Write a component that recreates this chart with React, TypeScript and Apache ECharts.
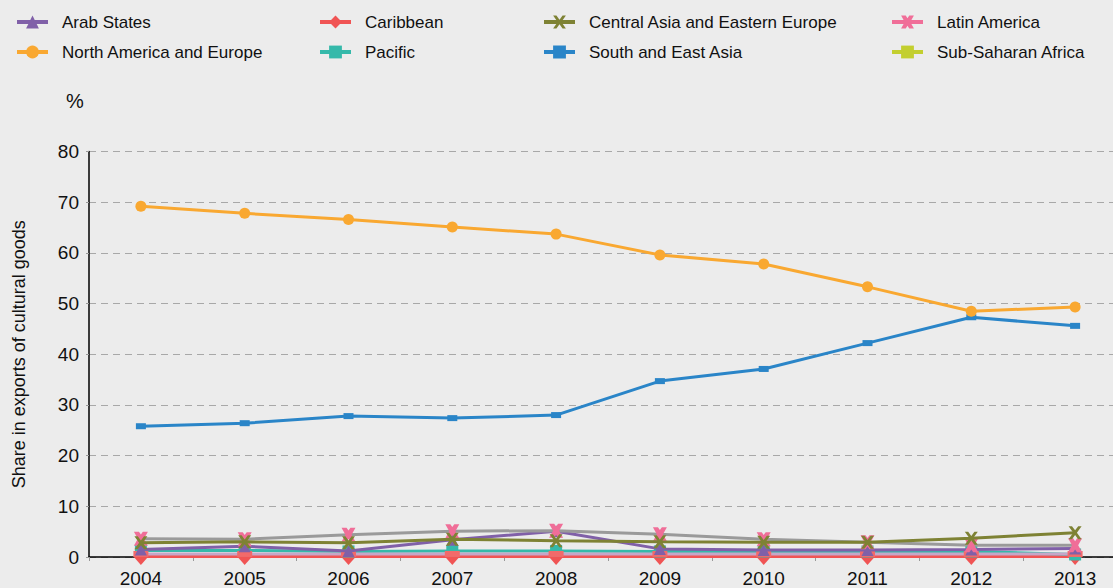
import React, { useEffect, useRef } from "react";
import * as echarts from "echarts";

const years = ["2004", "2005", "2006", "2007", "2008", "2009", "2010", "2011", "2012", "2013"];

const arabStates = [1.5, 2.1, 1.2, 3.4, 5.1, 1.6, 1.4, 1.4, 1.5, 1.7];
const caribbean = [0.1, 0.1, 0.1, 0.1, 0.1, 0.1, 0.1, 0.1, 0.1, 0.1];
const centralAsiaEasternEurope = [2.8, 3.0, 2.8, 3.5, 3.2, 3.0, 2.9, 2.9, 3.7, 4.8];
const latinAmerica = [3.6, 3.5, 4.4, 5.1, 5.2, 4.5, 3.5, 2.9, 2.3, 2.3];
const northAmericaEurope = [69.2, 67.8, 66.6, 65.1, 63.7, 59.6, 57.8, 53.3, 48.5, 49.3];
const pacific = [1.3, 1.3, 1.1, 1.2, 1.2, 1.1, 1.1, 1.1, 1.1, 0.5];
const southEastAsia = [25.8, 26.4, 27.8, 27.4, 28.0, 34.7, 37.1, 42.2, 47.3, 45.6];
const subSaharanAfrica = [0.6, 0.6, 0.6, 0.6, 0.6, 0.6, 0.6, 0.6, 0.6, 0.6];

const FONT = "'Liberation Sans', Arial, sans-serif";

const X_THIN =
  "path://M0,0 L2.6,0 L5,3.2 L7.4,0 L10,0 L6.4,5 L10,10 L7.4,10 L5,6.8 L2.6,10 L0,10 L3.6,5 Z";
const X_THICK =
  "path://M0,0 L3.6,0 L5,2 L6.4,0 L10,0 L7.2,5 L10,10 L6.4,10 L5,8 L3.6,10 L0,10 L2.8,5 Z";

const C = {
  arab: "#8060a8",
  carib: "#f05454",
  central: "#7e8234",
  latin: "#f06e98",
  latinLine: "#9a9a9a",
  nae: "#f9a831",
  pacific: "#35b9aa",
  sea: "#2a85c8",
  ssa: "#c3cf2f",
  ssaLine: "#c6a6c8",
  ssaMark: "#f26a6a",
};

export default function App() {
  const ref = useRef<HTMLDivElement>(null);

  useEffect(() => {
    if (!ref.current) return;
    const chart = echarts.init(ref.current, null, { renderer: "svg" });

    const legendText = { fontFamily: FONT, fontSize: 17, color: "#111", lineHeight: 20, padding: [0, 0, 0, 9] };
    const mkLegend = (left: number, items: any[]) => ({
      orient: "vertical",
      left,
      top: 12,
      padding: 0,
      itemWidth: 31,
      itemHeight: 16,
      itemGap: 10,
      textStyle: legendText,
      lineStyle: { width: 4 },
      selectedMode: false,
      data: items,
    });

    const line = (name: string, data: number[], color: string, symbol: string, size: any, extra: any = {}) => ({
      name,
      type: "line",
      data,
      symbol,
      symbolSize: size,
      showAllSymbol: true,
      lineStyle: { width: 3, color: extra.lineColor || color },
      itemStyle: { color },
      z: extra.z || 2,
    });

    chart.setOption({
      animation: false,
      backgroundColor: "#ececec",
      legend: [
        mkLegend(15, [{ name: "Arab States" }, { name: "North America and Europe" }]),
        mkLegend(318, [{ name: "Caribbean" }, { name: "Pacific" }]),
        mkLegend(542, [{ name: "Central Asia and Eastern Europe" }, { name: "South and East Asia" }]),
        mkLegend(890, [
          { name: "Latin America", itemStyle: { color: C.latin }, lineStyle: { color: C.latin, width: 4 } },
          { name: "Sub-Saharan Africa", itemStyle: { color: C.ssa }, lineStyle: { color: C.ssa, width: 4 } },
        ]),
      ],
      grid: {
        left: 89,
        right: -14,
        top: 151.5,
        bottom: 31,
        containLabel: false,
        outerBoundsMode: "none",
      },
      xAxis: {
        type: "category",
        data: years,
        boundaryGap: true,
        axisLine: { lineStyle: { color: "#000", width: 1.5 } },
        axisTick: { show: true, length: 4, lineStyle: { color: "#999" } },
        axisLabel: { fontFamily: FONT, fontSize: 19, color: "#111", margin: 12 },
      },
      yAxis: {
        type: "value",
        min: 0,
        max: 80,
        interval: 10,
        name: "Share in exports of cultural goods",
        nameLocation: "middle",
        nameRotate: 90,
        nameGap: 61,
        nameTextStyle: { fontFamily: FONT, fontSize: 18, color: "#111" },
        axisLine: { show: true, lineStyle: { color: "#000", width: 1.5 } },
        axisTick: { show: true, length: 3, lineStyle: { color: "#999" } },
        axisLabel: { fontFamily: FONT, fontSize: 19, color: "#111", margin: 10 },
        splitLine: { lineStyle: { color: "#a8a8a8", type: [7, 5], width: 1 } },
      },
      graphic: [
        {
          type: "text",
          left: 66,
          top: 91,
          style: { text: "%", fontFamily: FONT, fontSize: 20, fill: "#111" },
        },
      ],
      series: [
        line("Caribbean", caribbean, C.carib, "diamond", [15, 17], { z: 3 }),
        line("Sub-Saharan Africa", subSaharanAfrica, C.ssaMark, "rect", [15, 6], { lineColor: C.ssaLine, z: 4 }),
        line("Pacific", pacific, C.pacific, "rect", [12, 12], { z: 3 }),
        line("Arab States", arabStates, C.arab, "triangle", 12, { z: 5 }),
        line("Latin America", latinAmerica, C.latin, X_THICK, 14, { lineColor: C.latinLine, z: 5 }),
        line("Central Asia and Eastern Europe", centralAsiaEasternEurope, C.central, X_THIN, 13, { z: 6 }),
        line("South and East Asia", southEastAsia, C.sea, "rect", [10, 6], { z: 6 }),
        line("North America and Europe", northAmericaEurope, C.nae, "circle", 11, { z: 6 }),
      ],
    });

    return () => chart.dispose();
  }, []);

  return (
    <div
      ref={ref}
      style={{ position: "fixed", left: 0, top: 0, width: 1113, height: 588, overflow: "hidden" }}
    />
  );
}
